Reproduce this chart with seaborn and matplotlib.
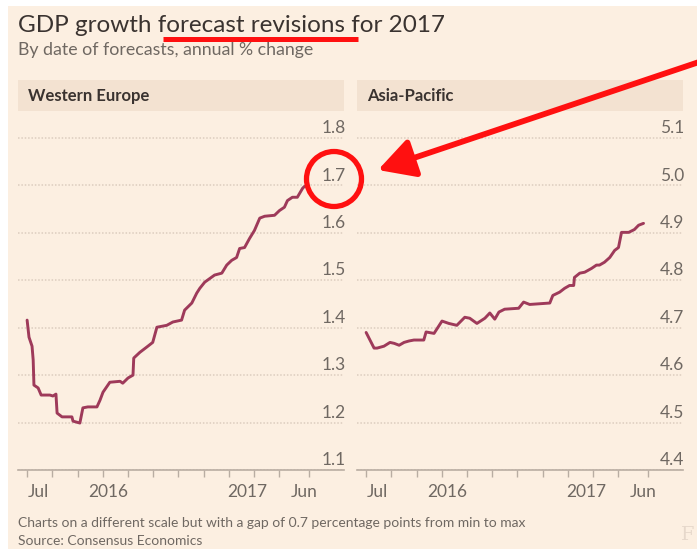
import numpy as np
import pandas as pd
import matplotlib
matplotlib.use("Agg")
import matplotlib.pyplot as plt
import matplotlib.dates as mdates
from matplotlib.patches import Rectangle, Ellipse, FancyArrowPatch
from matplotlib.transforms import ScaledTranslation
import seaborn as sns

# ---- data: consensus forecasts of 2017 GDP growth, by date of forecast ----
we_dates = ['2015-06-01', '2015-06-06', '2015-06-14', '2015-06-17', '2015-06-19', '2015-06-30',
            '2015-07-08', '2015-07-31', '2015-08-08', '2015-08-16', '2015-08-19', '2015-09-01',
            '2015-09-27', '2015-09-30', '2015-10-18', '2015-10-26', '2015-11-08', '2015-12-02',
            '2015-12-10', '2015-12-18', '2016-01-05', '2016-02-01', '2016-02-08', '2016-02-22',
            '2016-03-06', '2016-03-08', '2016-03-24', '2016-04-11', '2016-04-27', '2016-05-08',
            '2016-06-03', '2016-06-19', '2016-07-12', '2016-07-20', '2016-08-08', '2016-08-21',
            '2016-08-29', '2016-09-11', '2016-10-07', '2016-10-26', '2016-11-08', '2016-11-21',
            '2016-12-04', '2016-12-12', '2016-12-25', '2017-01-07', '2017-01-20', '2017-02-03',
            '2017-02-16', '2017-03-14', '2017-03-27', '2017-04-09', '2017-04-17', '2017-04-30',
            '2017-05-13', '2017-05-27', '2017-06-01']
we_values = [1.416, 1.380, 1.361, 1.332, 1.279, 1.273, 1.258, 1.258, 1.256, 1.260, 1.220, 1.212,
             1.212, 1.203, 1.199, 1.231, 1.233, 1.233, 1.247, 1.264, 1.285, 1.287, 1.283, 1.294,
             1.300, 1.336, 1.348, 1.359, 1.369, 1.401, 1.405, 1.412, 1.416, 1.437, 1.452, 1.473,
             1.483, 1.496, 1.511, 1.515, 1.532, 1.542, 1.548, 1.567, 1.569, 1.588, 1.605, 1.631,
             1.635, 1.637, 1.647, 1.654, 1.668, 1.675, 1.675, 1.694, 1.698]

ap_dates = ['2015-06-01', '2015-06-22', '2015-06-30', '2015-07-18', '2015-08-03', '2015-08-14',
            '2015-08-27', '2015-09-09', '2015-09-22', '2015-10-05', '2015-10-31', '2015-11-06',
            '2015-11-27', '2015-12-18', '2016-01-05', '2016-01-26', '2016-02-16', '2016-02-29',
            '2016-03-19', '2016-04-09', '2016-04-22', '2016-05-05', '2016-05-16', '2016-05-31',
            '2016-07-07', '2016-07-20', '2016-08-05', '2016-09-27', '2016-10-05', '2016-10-23',
            '2016-11-05', '2016-11-18', '2016-11-29', '2016-12-01', '2016-12-15', '2016-12-28',
            '2017-01-15', '2017-01-28', '2017-02-05', '2017-02-18', '2017-03-04', '2017-03-17',
            '2017-03-27', '2017-04-04', '2017-04-23', '2017-05-08', '2017-05-19', '2017-06-01']
ap_values = [4.690, 4.657, 4.657, 4.661, 4.669, 4.667, 4.663, 4.669, 4.672, 4.674, 4.674, 4.691,
             4.688, 4.714, 4.709, 4.705, 4.722, 4.720, 4.709, 4.720, 4.731, 4.718, 4.733, 4.739,
             4.741, 4.754, 4.749, 4.752, 4.768, 4.775, 4.783, 4.789, 4.789, 4.806, 4.815, 4.817,
             4.825, 4.832, 4.832, 4.838, 4.848, 4.863, 4.869, 4.901, 4.901, 4.907, 4.916, 4.920]

panel_titles = ['Western Europe', 'Asia-Pacific']
we_yticks = [1.1, 1.2, 1.3, 1.4, 1.5, 1.6, 1.7, 1.8]
ap_yticks = [4.4, 4.5, 4.6, 4.7, 4.8, 4.9, 5.0, 5.1]
x_labels = ['Jul', '2016', '2017', 'Jun']
x_label_dates = ['2015-07-01', '2016-01-01', '2017-01-01', '2017-06-01']

title = 'GDP growth forecast revisions for 2017'
subtitle = 'By date of forecasts, annual % change'
note = 'Charts on a different scale but with a gap of 0.7 percentage points from min to max'
source = 'Source: Consensus Economics'

# ---- style ----
BG = '#FCEFE1'
BAND = '#F3E2D1'
LINE = '#9E3A5A'
TXT = '#3A3330'
GREY = '#6F6862'
GRID = '#DCCDBF'
AXIS = '#B9ADA2'
RED = '#FF1010'

sns.set_style('white')
plt.rcParams['font.family'] = ['Lato', 'DejaVu Sans']

W, H = 697, 549
fig = plt.figure(figsize=(W / 100, H / 100), dpi=100)
fig.patch.set_facecolor('white')

# background layer in pixel coordinates
bg = fig.add_axes([0, 0, 1, 1], zorder=0)
bg.set_xlim(0, W)
bg.set_ylim(H, 0)
bg.axis('off')
bg.add_patch(Rectangle((8, 6), W - 8, H - 6, facecolor=BG, edgecolor='none'))

bg.text(18, 32, title, fontsize=17.5, color=TXT, va='baseline', ha='left')
bg.text(18, 55, subtitle, fontsize=12.8, color=GREY, va='baseline', ha='left')
bg.text(18, 527, note, fontsize=10, color=GREY, va='baseline', ha='left')
bg.text(18, 545, source, fontsize=10, color=GREY, va='baseline', ha='left')
bg.text(694, 540, 'F', fontsize=14, color='#E6D8CB', va='baseline', ha='right',
        family='DejaVu Serif')

panel_px = [(18, 344), (357, 683)]
for (x0, x1), name in zip(panel_px, panel_titles):
    bg.add_patch(Rectangle((x0, 80), x1 - x0, 31, facecolor=BAND, edgecolor='none'))
    bg.text(x0 + 10, 96, name, fontsize=12, fontweight='bold', color=TXT,
            va='center', ha='left')

# ---- data panels ----
start, end = pd.Timestamp('2015-06-01'), pd.Timestamp('2017-06-01')
xlim = (pd.Timestamp('2015-05-08'), pd.Timestamp('2017-09-13'))
minor_ticks = list(pd.date_range(start, end, periods=12)) + [pd.Timestamp('2017-06-14')]

panels = [
    (pd.DataFrame({'date': pd.to_datetime(we_dates), 'value': we_values}), we_yticks),
    (pd.DataFrame({'date': pd.to_datetime(ap_dates), 'value': ap_values}), ap_yticks),
]

bottom_px, top_px = 470, 115
for (x0, x1), (df, yt) in zip(panel_px, panels):
    ax = fig.add_axes([x0 / W, 1 - bottom_px / H, (x1 - x0) / W, (bottom_px - top_px) / H],
                      zorder=1)
    ax.patch.set_alpha(0)
    sns.lineplot(data=df, x='date', y='value', ax=ax, color=LINE, linewidth=2.1,
                 solid_joinstyle='round', solid_capstyle='round')
    ymin = yt[0]
    ymax = yt[-1] + 0.1 * (138 - top_px) / 47.5
    ax.set_ylim(ymin, ymax)
    ax.set_xlim(mdates.date2num(xlim[0]), mdates.date2num(xlim[1]))
    for s in ['left', 'right', 'top']:
        ax.spines[s].set_visible(False)
    ax.spines['bottom'].set_color(AXIS)
    ax.spines['bottom'].set_linewidth(1.2)

    # y axis: labels sitting above dotted gridlines, right aligned
    ax.set_yticks(yt)
    ax.set_yticklabels([f'{v:.1f}' for v in yt])
    ax.yaxis.set_ticks_position('right')
    ax.tick_params(axis='y', length=0, pad=1, labelsize=12.5, labelcolor=GREY,
                   labelright=True, labelleft=False)
    shift = ScaledTranslation(0, 3.5 / 72, fig.dpi_scale_trans)
    for lbl in ax.get_yticklabels():
        lbl.set_ha('right')
        lbl.set_va('baseline')
        lbl.set_transform(lbl.get_transform() + shift)
    ax.grid(axis='y', color=GRID, linestyle=(0, (1, 1.2)), linewidth=1.1)
    ax.grid(axis='x', visible=False)

    # x axis: small tick marks, text labels at key dates
    ax.set_xticks([mdates.date2num(pd.Timestamp(d)) for d in x_label_dates])
    ax.set_xticklabels(x_labels)
    ax.set_xticks([mdates.date2num(t) for t in minor_ticks], minor=True)
    ax.tick_params(axis='x', which='major', length=0, pad=10, labelsize=12.5,
                   labelcolor=GREY)
    ax.tick_params(axis='x', which='minor', length=5, width=1, color=AXIS,
                   direction='out', bottom=True)
    ax.set_xlabel('')
    ax.set_ylabel('')

# ---- red mark-up on top ----
ov = fig.add_axes([0, 0, 1, 1], zorder=10)
ov.set_xlim(0, W)
ov.set_ylim(H, 0)
ov.axis('off')
ov.patch.set_alpha(0)
ov.plot([163, 358], [38.5, 38.5], color=RED, linewidth=3.6, solid_capstyle='butt')
ov.add_patch(Ellipse((334, 179), 55, 55, fill=False, edgecolor=RED, linewidth=3.8))
ov.add_patch(FancyArrowPatch((705, 60), (378, 170), arrowstyle='-|>,head_length=1.1,head_width=0.6',
                             mutation_scale=20, color=RED, linewidth=4.2,
                             shrinkA=0, shrinkB=0))

fig.savefig('out.png', dpi=100, facecolor=fig.get_facecolor())
